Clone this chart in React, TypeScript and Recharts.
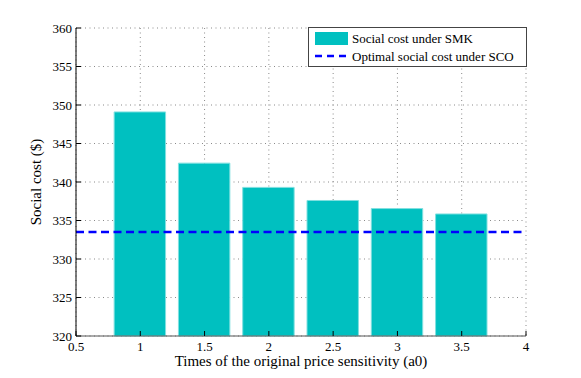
import React from 'react';
import { ComposedChart, Bar, XAxis, YAxis, CartesianGrid, ReferenceLine, Label } from 'recharts';

const categories = [1, 1.5, 2, 2.5, 3, 3.5];
const smkCost = [349.1, 342.45, 339.3, 337.6, 336.55, 335.85];
const scoCost = [333.5];
const xTicks = [0.5, 1, 1.5, 2, 2.5, 3, 3.5, 4];
const yTicks = [320, 325, 330, 335, 340, 345, 350, 355, 360];
const seriesNames = ['Social cost under SMK', 'Optimal social cost under SCO'];
const xLabel = 'Times of the original price sensitivity (a0)';
const yLabel = 'Social cost ($)';

const data = categories.map((c, i) => ({ x: c, smk: smkCost[i] }));

const FONT = 'Liberation Serif';
const W = 581;
const H = 378;
const M = { top: 28, right: 55, bottom: 0, left: 0 };
const YW = 76;
const XH = 42;
const plotW = W - M.right - YW;
const barSize = (0.4 * plotW) / (xTicks[xTicks.length - 1] - xTicks[0]);

const tickStyle = { fontFamily: FONT, fontSize: 13, fill: '#000' };
const empty = () => <g />;

export default function App() {
  return (
    <div
      style={{
        position: 'absolute',
        left: 0,
        top: 0,
        width: W,
        height: H,
        background: '#fff',
        fontFamily: FONT,
      }}
    >
      <ComposedChart width={W} height={H} data={data} margin={M} style={{ fontFamily: FONT }}>
        <CartesianGrid xAxisId="b" yAxisId="l" stroke="#8a8a8a" strokeDasharray="1 3.5" />
        <XAxis
          xAxisId="b"
          dataKey="x"
          type="number"
          domain={[0.5, 4]}
          ticks={xTicks}
          height={XH}
          tick={tickStyle}
          tickSize={-5}
          tickMargin={11}
          tickLine={{ stroke: '#000' }}
          axisLine={{ stroke: '#555' }}
          interval={0}
        >
          <Label
            content={({ viewBox }: any) => (
              <text
                x={viewBox.x + viewBox.width / 2}
                y={366}
                textAnchor="middle"
                fontFamily={FONT}
                fontSize={15}
                fill="#000"
              >
                {xLabel}
              </text>
            )}
          />
        </XAxis>
        <XAxis
          xAxisId="t"
          orientation="top"
          type="number"
          domain={[0.5, 4]}
          ticks={xTicks}
          height={0}
          tick={empty}
          tickSize={-5}
          axisLine={{ stroke: '#555' }}
          tickLine={{ stroke: '#000' }}
          interval={0}
        />
        <YAxis
          yAxisId="l"
          type="number"
          domain={[320, 360]}
          ticks={yTicks}
          width={YW}
          tick={tickStyle}
          tickSize={-5}
          tickMargin={9}
          axisLine={{ stroke: '#000' }}
          tickLine={{ stroke: '#000' }}
          interval={0}
        >
          <Label
            content={({ viewBox }: any) => (
              <text
                x={41}
                y={viewBox.y + viewBox.height / 2}
                textAnchor="middle"
                transform={`rotate(-90, 41, ${viewBox.y + viewBox.height / 2})`}
                fontFamily={FONT}
                fontSize={15}
                fill="#000"
              >
                {yLabel}
              </text>
            )}
          />
        </YAxis>
        <YAxis
          yAxisId="r"
          orientation="right"
          type="number"
          domain={[320, 360]}
          ticks={yTicks}
          width={0}
          tick={empty}
          tickSize={-5}
          axisLine={{ stroke: '#555' }}
          tickLine={{ stroke: '#000' }}
          interval={0}
        />
        <Bar
          xAxisId="b"
          yAxisId="l"
          dataKey="smk"
          fill="#00C0C0"
          stroke="#80E0E0"
          strokeWidth={1}
          barSize={barSize}
          isAnimationActive={false}
        />
        <ReferenceLine
          xAxisId="b"
          yAxisId="l"
          y={scoCost[0]}
          stroke="#0000FF"
          strokeWidth={2.5}
          strokeDasharray="8 4.5"
        />
      </ComposedChart>
      <div
        style={{
          position: 'absolute',
          left: 308,
          top: 27,
          width: 217,
          height: 38,
          border: '1px solid #444',
          background: '#fff',
          boxSizing: 'content-box',
        }}
      >
        <svg width={217} height={38} style={{ display: 'block' }}>
          <rect x={6} y={4} width={33} height={13} fill="#00C0C0" />
          <text x={43} y={15} fontFamily={FONT} fontSize={13} fill="#000">
            {seriesNames[0]}
          </text>
          <line x1={6} y1={28} x2={39} y2={28} stroke="#0000FF" strokeWidth={2.5} strokeDasharray="7 5" />
          <text x={43} y={33} fontFamily={FONT} fontSize={13} fill="#000">
            {seriesNames[1]}
          </text>
        </svg>
      </div>
    </div>
  );
}
